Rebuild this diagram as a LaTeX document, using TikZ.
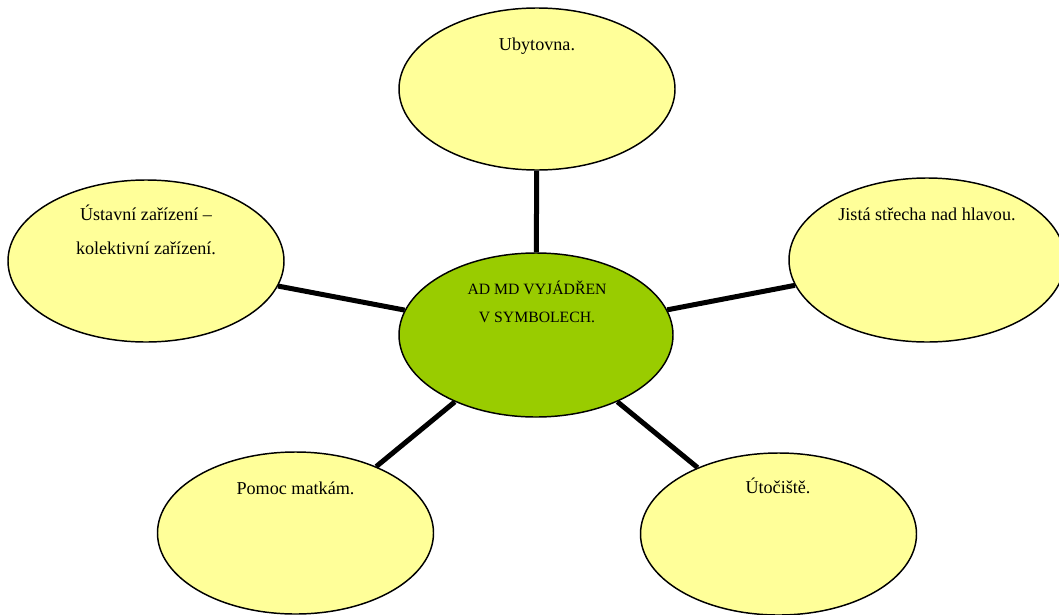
\documentclass[tikz,border=0pt]{standalone}
\usepackage{fontspec}
\setmainfont{Liberation Serif}
\usetikzlibrary{shapes.geometric}
\definecolor{paleyellow}{HTML}{FFFF99}
\definecolor{hubgreen}{HTML}{99CC00}
\begin{document}
\begin{tikzpicture}[x=0.75pt,y=-0.75pt,
  bubble/.style={ellipse, draw=black, line width=1.1pt, fill=paleyellow, inner sep=0pt, minimum width=207pt, minimum height=121.5pt},
  hub/.style={bubble, fill=hubgreen, minimum width=205.5pt, minimum height=123pt},
  lbl/.style={anchor=base, inner sep=0pt, font=\fontsize{13.6}{16}\selectfont},
  hublbl/.style={lbl, font=\fontsize{11.8}{14}\selectfont},
  spoke/.style={line width=3.75pt, black}]
\useasboundingbox (0,0) rectangle (1059,614);
% bubbles
\node[bubble] (top) at (537,89) {};
\node[bubble] (left) at (146,261) {};
\node[bubble, minimum height=123pt] (right) at (927,260) {};
\node[hub] (hubnode) at (536,335) {};
\node[bubble] (bl) at (295.5,533) {};
\node[bubble] (br) at (778.5,534) {};
% spokes
\draw[spoke] (hubnode) -- (top);
\draw[spoke] (hubnode) -- (left);
\draw[spoke] (hubnode) -- (right);
\draw[spoke] (hubnode) -- (bl);
\draw[spoke] (hubnode) -- (br);
% labels
\node[lbl] (ttop) at (537,50) {Ubytovna.};
\node[lbl] (tleft1) at (146,220) {Ústavní zařízení –};
\node[lbl] (tleft2) at (146,254) {kolektivní zařízení.};
\node[lbl] (tright) at (927,220) {Jistá střecha nad hlavou.};
\node[hublbl] (thub1) at (537,294) {AD MD VYJÁDŘEN};
\node[hublbl] (thub2) at (537,322) {V SYMBOLECH.};
\node[lbl] (tbl) at (295.5,494) {Pomoc matkám.};
\node[lbl] (tbr) at (778,493) {Útočiště.};
\end{tikzpicture}
\end{document}
